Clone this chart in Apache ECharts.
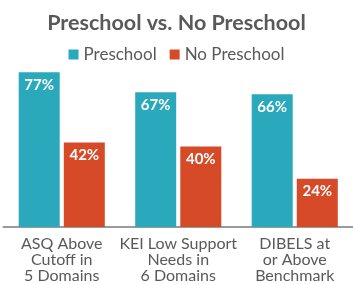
<!DOCTYPE html>
<html>
<head>
<meta charset="utf-8">
<script src="https://cdn.jsdelivr.net/npm/echarts@6/dist/echarts.min.js"></script>
<style>
  html, body { margin: 0; padding: 0; background: #fff; }
  #main { width: 353px; height: 284px; }
</style>
</head>
<body>
<div id="main"></div>
<script>
  var categories = ["ASQ Above\nCutoff in\n5 Domains", "KEI Low Support\nNeeds in\n6 Domains", "DIBELS at\nor Above\nBenchmark"];
  var preschool = [77, 67, 66];
  var noPreschool = [42, 40, 24];
  var seriesNames = ["Preschool", "No Preschool"];

  var myChart = echarts.init(document.getElementById("main"));
  var labelStyle = {
    show: true,
    position: "insideTop",
    distance: 5,
    color: "#fff",
    fontFamily: "Lato",
    fontWeight: "bold",
    fontSize: 15,
    formatter: "{c}%"
  };
  var option = {
    animation: false,
    title: {
      text: "Preschool vs. No Preschool",
      left: "center",
      top: 7,
      textStyle: { fontFamily: "Lato", fontWeight: "bold", fontSize: 21.5, color: "#595959" }
    },
    legend: {
      data: seriesNames,
      top: 41,
      left: "center",
      icon: "rect",
      itemWidth: 10,
      itemHeight: 10,
      itemGap: 13,
      itemStyle: { borderWidth: 0 },
      textStyle: { fontFamily: "Lato", fontSize: 17, color: "#595959" }
    },
    grid: { left: 3.5, right: -13.5, top: 26, bottom: 55 },
    xAxis: {
      type: "category",
      data: categories,
      axisTick: { show: false },
      axisLine: { lineStyle: { color: "#9a9a9a", width: 2 } },
      axisLabel: {
        fontFamily: "Lato",
        fontSize: 16,
        lineHeight: 16,
        color: "#595959",
        margin: 9,
        interval: 0
      }
    },
    yAxis: {
      type: "value",
      min: 0,
      max: 100,
      show: false,
      splitLine: { show: false }
    },
    series: [
      {
        name: seriesNames[0],
        type: "bar",
        data: preschool,
        barWidth: 41,
        barGap: "10%",
        itemStyle: { color: "#2aa8bc" },
        label: labelStyle
      },
      {
        name: seriesNames[1],
        type: "bar",
        data: noPreschool,
        barWidth: 41,
        itemStyle: { color: "#d64a27" },
        label: labelStyle
      }
    ]
  };
  myChart.setOption(option);
</script>
</body>
</html>
